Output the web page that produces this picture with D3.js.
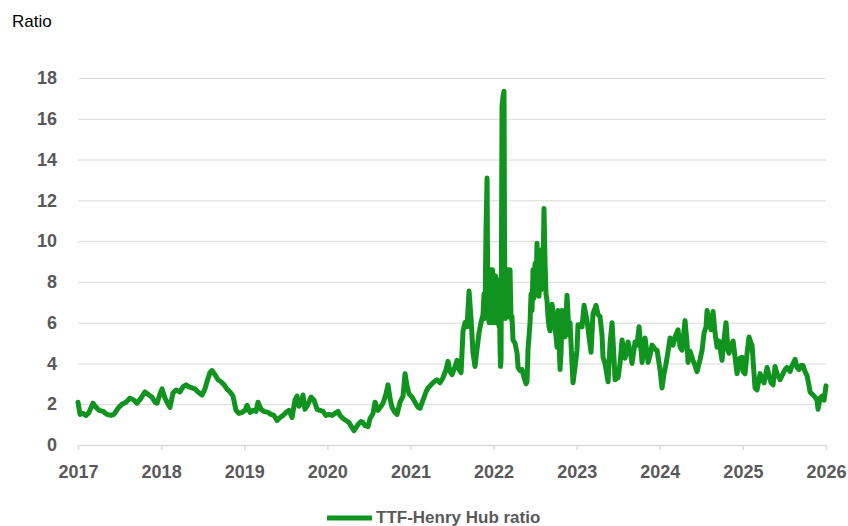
<!DOCTYPE html>
<html>
<head>
<meta charset="utf-8">
<script src="https://cdn.jsdelivr.net/npm/d3@7"></script>
<style>
  html, body { margin: 0; padding: 0; background: #fff; }
  svg { display: block; font-family: "Liberation Sans", Arial, sans-serif; }
</style>
</head>
<body>
<svg id="chart" width="848" height="526"></svg>
<script>
// Tick labels
const yearTicks = [2017, 2018, 2019, 2020, 2021, 2022, 2023, 2024, 2025, 2026];
const ratioTicks = [0, 2, 4, 6, 8, 10, 12, 14, 16, 18];
const seriesName = "TTF-Henry Hub ratio";

// Observation dates (decimal years)
const dates = [
  2017.000, 2017.024, 2017.060, 2017.096, 2017.132, 2017.180, 2017.217, 2017.253, 2017.301, 2017.349,
  2017.397, 2017.433, 2017.481, 2017.529, 2017.578, 2017.626, 2017.674, 2017.710, 2017.758, 2017.806,
  2017.854, 2017.890, 2017.927, 2017.951, 2017.987, 2018.011, 2018.047, 2018.083, 2018.107, 2018.143,
  2018.179, 2018.227, 2018.263, 2018.300, 2018.336, 2018.372, 2018.408, 2018.444, 2018.492, 2018.528,
  2018.552, 2018.588, 2018.612, 2018.649, 2018.685, 2018.721, 2018.757, 2018.793, 2018.829, 2018.865,
  2018.901, 2018.937, 2018.973, 2019.010, 2019.034, 2019.070, 2019.106, 2019.142, 2019.166, 2019.202,
  2019.238, 2019.286, 2019.322, 2019.358, 2019.395, 2019.431, 2019.467, 2019.503, 2019.539, 2019.575,
  2019.611, 2019.635, 2019.659, 2019.683, 2019.707, 2019.731, 2019.768, 2019.804, 2019.840, 2019.876,
  2019.912, 2019.948, 2019.984, 2020.020, 2020.056, 2020.092, 2020.129, 2020.153, 2020.189, 2020.225,
  2020.261, 2020.297, 2020.321, 2020.345, 2020.369, 2020.405, 2020.429, 2020.453, 2020.490, 2020.514,
  2020.550, 2020.574, 2020.610, 2020.646, 2020.670, 2020.706, 2020.730, 2020.754, 2020.778, 2020.814,
  2020.839, 2020.875, 2020.911, 2020.935, 2020.959, 2020.983, 2021.019, 2021.055, 2021.091, 2021.115,
  2021.151, 2021.187, 2021.212, 2021.248, 2021.284, 2021.320, 2021.356, 2021.392, 2021.428, 2021.452,
  2021.476, 2021.500, 2021.524, 2021.561, 2021.585, 2021.609, 2021.633, 2021.657, 2021.681, 2021.705,
  2021.729, 2021.753, 2021.777, 2021.801, 2021.825, 2021.849, 2021.873, 2021.885, 2021.897, 2021.909,
  2021.922, 2021.928, 2021.934, 2021.940, 2021.946, 2021.952, 2021.958, 2021.964, 2021.970, 2021.976,
  2021.982, 2021.988, 2021.994, 2022.000, 2022.006, 2022.012, 2022.018, 2022.024, 2022.030, 2022.036,
  2022.042, 2022.048, 2022.054, 2022.060, 2022.066, 2022.072, 2022.078, 2022.084, 2022.090, 2022.102,
  2022.114, 2022.126, 2022.132, 2022.138, 2022.144, 2022.150, 2022.156, 2022.162, 2022.168, 2022.174,
  2022.180, 2022.186, 2022.192, 2022.198, 2022.210, 2022.222, 2022.234, 2022.258, 2022.283, 2022.295,
  2022.319, 2022.343, 2022.367, 2022.391, 2022.403, 2022.415, 2022.439, 2022.451, 2022.463, 2022.475,
  2022.487, 2022.499, 2022.511, 2022.523, 2022.535, 2022.547, 2022.559, 2022.571, 2022.583, 2022.595,
  2022.607, 2022.619, 2022.631, 2022.643, 2022.655, 2022.667, 2022.680, 2022.704, 2022.716, 2022.740,
  2022.764, 2022.776, 2022.800, 2022.812, 2022.824, 2022.848, 2022.860, 2022.884, 2022.908, 2022.920,
  2022.944, 2022.956, 2022.980, 2023.004, 2023.016, 2023.041, 2023.065, 2023.089, 2023.125, 2023.149,
  2023.173, 2023.197, 2023.233, 2023.257, 2023.281, 2023.305, 2023.317, 2023.341, 2023.378, 2023.402,
  2023.426, 2023.450, 2023.462, 2023.498, 2023.522, 2023.546, 2023.582, 2023.618, 2023.642, 2023.666,
  2023.702, 2023.726, 2023.751, 2023.787, 2023.823, 2023.859, 2023.883, 2023.907, 2023.943, 2023.967,
  2024.003, 2024.027, 2024.051, 2024.076, 2024.100, 2024.124, 2024.160, 2024.184, 2024.220, 2024.244,
  2024.268, 2024.304, 2024.328, 2024.340, 2024.364, 2024.400, 2024.424, 2024.448, 2024.485, 2024.509,
  2024.533, 2024.557, 2024.569, 2024.593, 2024.617, 2024.641, 2024.665, 2024.689, 2024.713, 2024.749,
  2024.773, 2024.797, 2024.821, 2024.833, 2024.858, 2024.882, 2024.906, 2024.930, 2024.966, 2024.990,
  2025.002, 2025.026, 2025.050, 2025.074, 2025.098, 2025.110, 2025.134, 2025.146, 2025.170, 2025.207,
  2025.231, 2025.255, 2025.291, 2025.315, 2025.339, 2025.363, 2025.387, 2025.411, 2025.447, 2025.483,
  2025.507, 2025.531, 2025.568, 2025.592, 2025.628, 2025.652, 2025.676, 2025.700, 2025.724, 2025.748,
  2025.772, 2025.796, 2025.808, 2025.832, 2025.868, 2025.892, 2025.904, 2025.929, 2025.953, 2025.977, 2026.000
];

// TTF / Henry Hub price ratio
const ratio = [
  2.10, 1.50, 1.55, 1.45, 1.60, 2.05, 1.85, 1.70, 1.65, 1.50,
  1.45, 1.50, 1.80, 2.00, 2.10, 2.30, 2.20, 2.05, 2.30, 2.60,
  2.45, 2.35, 2.10, 2.05, 2.50, 2.75, 2.30, 2.00, 1.85, 2.55,
  2.70, 2.60, 2.85, 2.95, 2.85, 2.80, 2.75, 2.60, 2.45, 2.75,
  3.10, 3.55, 3.65, 3.45, 3.20, 3.10, 2.95, 2.75, 2.60, 2.40,
  1.70, 1.55, 1.60, 1.70, 1.95, 1.60, 1.70, 1.65, 2.10, 1.75,
  1.65, 1.60, 1.50, 1.45, 1.20, 1.35, 1.45, 1.60, 1.70, 1.35,
  2.20, 2.40, 1.90, 2.05, 2.45, 1.75, 2.00, 2.35, 2.20, 1.75,
  1.70, 1.65, 1.45, 1.50, 1.45, 1.55, 1.65, 1.45, 1.30, 1.20,
  1.10, 0.85, 0.70, 0.85, 1.00, 1.15, 1.10, 0.95, 0.90, 1.30,
  1.55, 2.10, 1.70, 1.90, 2.05, 2.50, 2.95, 2.30, 1.85, 1.60,
  1.50, 2.10, 2.40, 3.50, 2.90, 2.50, 2.35, 2.10, 1.85, 1.80,
  2.20, 2.60, 2.80, 2.95, 3.10, 3.20, 3.05, 3.30, 3.70, 4.10,
  3.60, 3.45, 3.70, 4.15, 3.70, 3.55, 5.60, 6.00, 5.80, 7.55,
  6.20, 4.50, 3.85, 4.70, 5.50, 6.00, 6.40, 7.40, 6.20, 10.50,
  13.10, 9.00, 6.20, 8.60, 6.00, 8.20, 6.10, 8.60, 6.30, 7.60,
  6.00, 8.60, 6.40, 8.20, 6.00, 7.90, 6.20, 8.30, 6.00, 7.40,
  6.10, 8.10, 6.30, 7.80, 5.80, 6.60, 4.80, 3.85, 4.20, 16.60,
  17.10, 17.35, 10.00, 7.60, 6.20, 8.20, 6.30, 8.60, 6.50, 8.60,
  6.30, 7.90, 6.30, 8.60, 6.20, 6.30, 5.15, 5.00, 4.50, 3.80,
  3.65, 3.70, 3.30, 3.00, 3.10, 4.70, 6.00, 7.40, 6.60, 8.60,
  7.20, 8.90, 7.60, 9.90, 7.80, 7.30, 8.80, 7.60, 9.60, 8.40,
  11.60, 9.00, 7.40, 7.10, 6.30, 5.80, 5.60, 6.90, 6.50, 5.80,
  4.80, 6.60, 3.70, 4.50, 6.60, 5.50, 5.30, 7.35, 5.40, 6.00,
  4.00, 3.05, 3.80, 4.65, 5.90, 5.90, 5.80, 6.85, 6.10, 5.30,
  4.55, 6.45, 6.85, 6.40, 6.30, 5.40, 4.30, 4.00, 3.10, 5.00,
  6.00, 4.20, 3.20, 3.30, 4.00, 5.15, 4.25, 5.05, 4.60, 4.00,
  5.05, 4.90, 5.80, 4.05, 5.25, 4.05, 4.40, 4.90, 4.70, 4.65,
  3.70, 2.80, 3.50, 4.00, 4.60, 5.25, 4.90, 5.30, 5.65, 4.80,
  4.65, 6.10, 5.00, 4.05, 4.60, 4.15, 3.90, 3.60, 4.20, 4.65,
  5.50, 5.80, 6.60, 6.00, 5.65, 6.55, 5.50, 4.80, 5.10, 4.15,
  5.20, 6.00, 4.65, 4.50, 4.90, 5.10, 4.30, 3.50, 4.25, 4.30,
  3.60, 3.50, 4.50, 5.30, 5.00, 4.90, 3.50, 2.80, 2.70, 3.50,
  3.20, 3.05, 3.80, 3.40, 3.05, 2.95, 3.85, 3.50, 3.20, 3.50,
  3.70, 3.80, 3.60, 3.90, 4.20, 3.80, 3.70, 3.90, 3.90, 3.60,
  3.40, 2.90, 2.60, 2.50, 2.35, 2.20, 1.75, 2.30, 2.40, 2.20, 2.90
];

const svg = d3.select("#chart");
const margin = { left: 78, right: 22, top: 78, bottom: 81 };
const W = +svg.attr("width"), H = +svg.attr("height");
const plotW = W - margin.left - margin.right;
const plotH = H - margin.top - margin.bottom;

const x = d3.scaleLinear().domain([2017, 2026]).range([0, plotW]);
const y = d3.scaleLinear().domain([0, 18]).range([plotH, 0]);

const g = svg.append("g").attr("transform", `translate(${margin.left},${margin.top})`);

const gridColor = "#d9d9d9";
const labelColor = "#595959";

// Horizontal gridlines with value labels
const yAxis = g.append("g")
  .call(d3.axisLeft(y).tickValues(ratioTicks).tickSize(-plotW).tickPadding(21).tickFormat(d3.format("d")));
yAxis.select(".domain").remove();
yAxis.selectAll(".tick line").attr("stroke", gridColor).attr("stroke-width", 1);
yAxis.selectAll(".tick text")
  .attr("fill", labelColor).attr("font-size", 18).attr("font-weight", "bold")
  .attr("font-family", "Liberation Sans, Arial, sans-serif");

// Year axis along the bottom
const xAxis = g.append("g")
  .attr("transform", `translate(0,${plotH})`)
  .call(d3.axisBottom(x).tickValues(yearTicks).tickSize(5).tickSizeOuter(0).tickPadding(15).tickFormat(d3.format("d")));
xAxis.select(".domain").attr("stroke", gridColor).attr("stroke-width", 1.5);
xAxis.selectAll(".tick line").attr("stroke", gridColor).attr("stroke-width", 1.5);
xAxis.selectAll(".tick text")
  .attr("fill", labelColor).attr("font-size", 18).attr("font-weight", "bold")
  .attr("font-family", "Liberation Sans, Arial, sans-serif");

// Ratio series
const lineColor = "#10931f";
const series = dates.map((d, i) => ({ date: d, value: ratio[i] }));
const line = d3.line().x(d => x(d.date)).y(d => y(d.value));
g.append("path")
  .datum(series)
  .attr("d", line)
  .attr("fill", "none")
  .attr("stroke", lineColor)
  .attr("stroke-width", 5)
  .attr("stroke-linejoin", "round")
  .attr("stroke-linecap", "round");

// Axis title
svg.append("text")
  .attr("x", 12).attr("y", 27)
  .attr("font-size", 17).attr("fill", "#000")
  .text("Ratio");

// Legend
const legend = svg.append("g").attr("transform", "translate(327,518)");
legend.append("line")
  .attr("x1", 0).attr("x2", 45).attr("y1", 0).attr("y2", 0)
  .attr("stroke", lineColor).attr("stroke-width", 5);
legend.append("text")
  .attr("x", 49).attr("y", 5)
  .attr("font-size", 17).attr("font-weight", "bold").attr("fill", labelColor)
  .text(seriesName);
</script>
</body>
</html>
